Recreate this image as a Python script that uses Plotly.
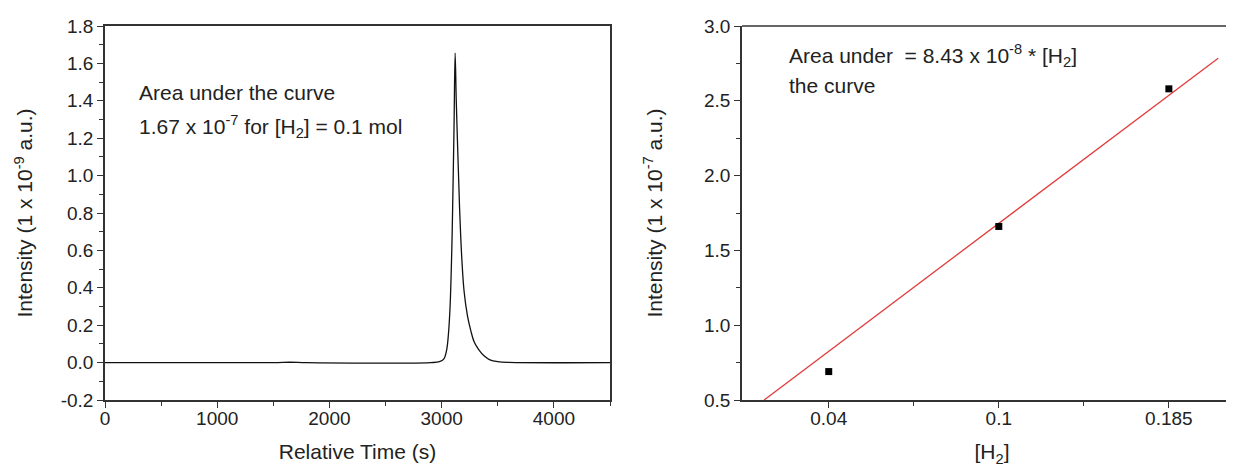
import plotly.graph_objects as go

# ---- Left panel data: intensity trace ----
time_s = [0, 1500, 1650, 1800, 2900, 2980, 3020, 3045, 3060, 3075, 3090, 3100, 3110, 3120,
          3130, 3145, 3160, 3180, 3200, 3230, 3260, 3290, 3330, 3380, 3430, 3500, 3600, 4500]
intensity_e9 = [0, 0, 0.002, 0, 0, 0.005, 0.02, 0.07, 0.15, 0.3, 0.6, 0.9, 1.25, 1.655,
                1.4, 1.1, 0.82, 0.55, 0.38, 0.25, 0.17, 0.11, 0.07, 0.035, 0.015, 0.005, 0.001, 0]
left_y_ticks = [-0.2, 0.0, 0.2, 0.4, 0.6, 0.8, 1.0, 1.2, 1.4, 1.6, 1.8]
left_y_labels = ["-0.2", "0.0", "0.2", "0.4", "0.6", "0.8", "1.0", "1.2", "1.4", "1.6", "1.8"]

# ---- Right panel data ----
h2_labels = ["0.04", "0.1", "0.185"]
h2_pos = [1, 2, 3]
area_e7 = [0.69, 1.66, 2.58]
fit_pos = [0.62, 3.29]
fit_val = [0.5, 2.785]

W, H = 1234, 471
FONT = "Liberation Sans, Arial, sans-serif"
AX = "#333333"
TXT = "#222222"

def px_x(p):
    return p / W

def px_y(p):
    return 1 - p / H

fig = go.Figure()
fig.add_trace(go.Scatter(x=time_s, y=intensity_e9, mode="lines",
                         line=dict(color="#111111", width=1.3), xaxis="x", yaxis="y",
                         showlegend=False, line_shape="spline"))
fig.add_trace(go.Scatter(x=fit_pos, y=fit_val, mode="lines",
                         line=dict(color="#e03c3c", width=1.3), xaxis="x2", yaxis="y2",
                         showlegend=False))
fig.add_trace(go.Scatter(x=h2_pos, y=area_e7, mode="markers",
                         marker=dict(symbol="square", size=7, color="#000000"),
                         xaxis="x2", yaxis="y2", showlegend=False))

common = dict(showgrid=False, zeroline=False, showline=True, linecolor=AX, linewidth=1.5,
              ticks="outside", ticklen=6, tickwidth=1.3, tickcolor=AX, automargin=False,
              tickfont=dict(family=FONT, size=19, color=TXT))

ydom = [px_y(392), px_y(18)]

fig.update_layout(
    width=W, height=H, margin=dict(l=0, r=0, t=0, b=0),
    plot_bgcolor="white", paper_bgcolor="white",
    xaxis=dict(domain=[px_x(97), px_x(602)], range=[0, 4500], dtick=1000, tick0=0,
               mirror=True, anchor="y", ticklabelstandoff=-6,
               minor=dict(dtick=500, ticks="outside", ticklen=4, tickcolor=AX),
               title=dict(text="Relative Time (s)", font=dict(family=FONT, size=21, color=TXT), standoff=17),
               **common),
    yaxis=dict(domain=ydom, range=[-0.2, 1.8], tickvals=left_y_ticks, ticktext=left_y_labels,
               mirror=True, anchor="x",
               minor=dict(dtick=0.1, tick0=0, ticks="outside", ticklen=4, tickcolor=AX),
               title=dict(text="Intensity (1 x 10<sup>-9</sup> a.u.)", font=dict(family=FONT, size=21, color=TXT), standoff=22),
               **common),
    xaxis2=dict(domain=[px_x(734), 1.0], range=[0.49, 3.43], tickvals=h2_pos, ticktext=h2_labels,
                mirror=False, anchor="y2", ticklabelstandoff=-6,
                minor=dict(tickvals=[1.5, 2.5], ticks="outside", ticklen=4, tickcolor=AX),
                title=dict(text="[H<sub>2</sub>]", font=dict(family=FONT, size=21, color=TXT), standoff=17),
                **common),
    yaxis2=dict(domain=ydom, range=[0.5, 3.0], dtick=0.5, tick0=0.5, tickformat=".1f",
                mirror=False, anchor="x2",
                minor=dict(dtick=0.25, tick0=0.5, ticks="outside", ticklen=4, tickcolor=AX),
                title=dict(text="Intensity (1 x 10<sup>-7</sup> a.u.)", font=dict(family=FONT, size=21, color=TXT), standoff=36),
                **common),
)

# top border of right panel
fig.add_shape(type="line", xref="x2 domain", yref="y2 domain", x0=0, x1=1, y0=1, y1=1,
              line=dict(color=AX, width=1.5))

ann_font = dict(family=FONT, size=21, color=TXT)
anns = [
    ("Area under the curve", 129, 85),
    ("1.67 x 10<sup>-7</sup> for [H<sub>2</sub>] = 0.1 mol", 129, 119),
    ("Area under &nbsp;= 8.43 x 10<sup>-8</sup> * [H<sub>2</sub>]", 779, 48),
    ("the curve", 779, 78),
]
for text, x, y in anns:
    fig.add_annotation(text=text, x=px_x(x), y=px_y(y), xref="paper", yref="paper",
                       xanchor="left", yanchor="middle", showarrow=False, font=ann_font)

fig.write_html("out.html")
